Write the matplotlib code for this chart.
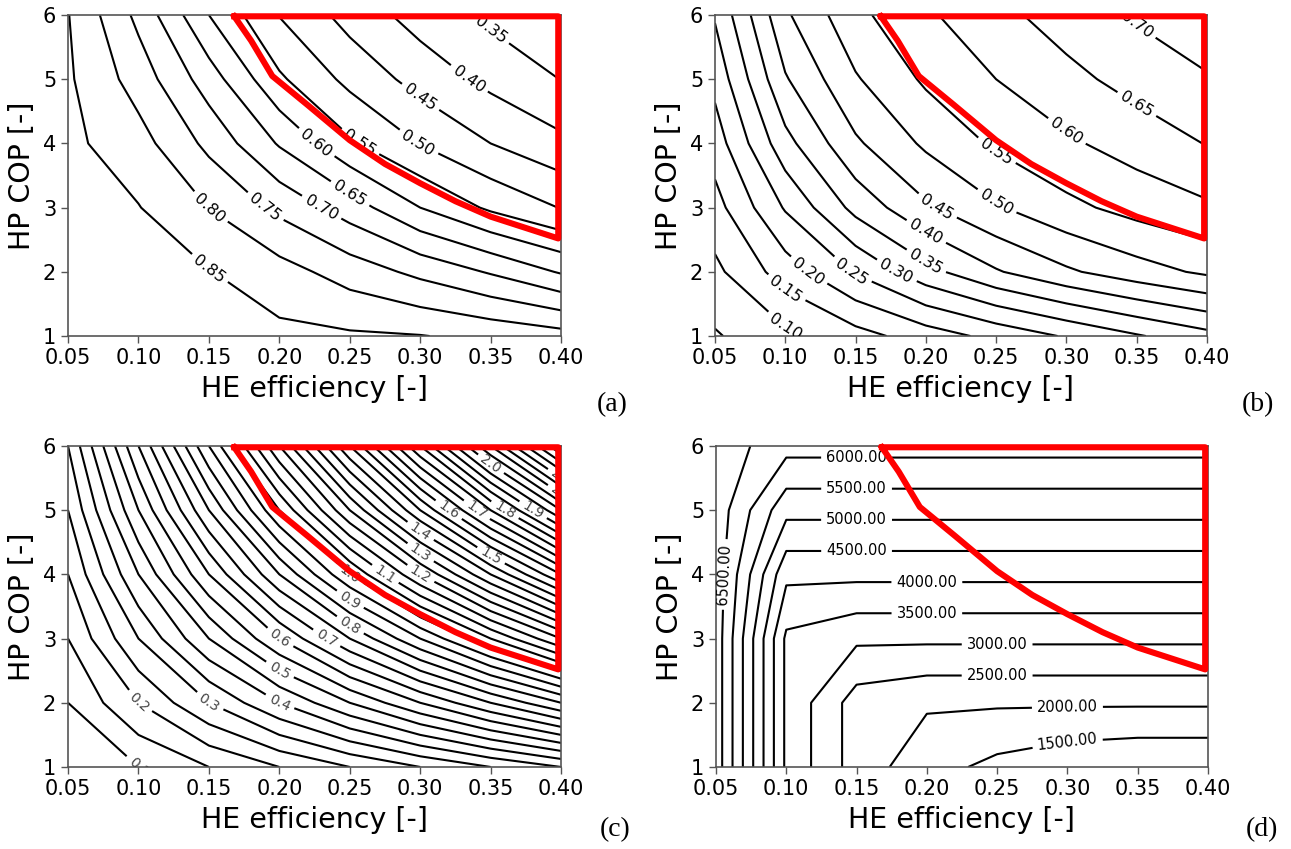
import matplotlib
matplotlib.use("Agg")
import matplotlib.pyplot as plt
import numpy as np
from matplotlib.ticker import FormatStrFormatter

plt.rcParams['font.family'] = 'DejaVu Sans'

# grade: eficiencia do HE (colunas) e COP da HP (linhas)
he_eff = [0.05, 0.10, 0.15, 0.20, 0.25, 0.30, 0.35, 0.40]
hp_cop = [1, 2, 3, 4, 5, 6]

# (a)
za = [[0.893, 0.882, 0.871, 0.862, 0.857, 0.852, 0.837, 0.820],
      [0.882, 0.862, 0.852, 0.820, 0.778, 0.737, 0.695, 0.645],
      [0.871, 0.852, 0.799, 0.737, 0.675, 0.600, 0.541, 0.498],
      [0.862, 0.820, 0.737, 0.645, 0.558, 0.498, 0.450, 0.412],
      [0.857, 0.778, 0.675, 0.558, 0.486, 0.431, 0.386, 0.349],
      [0.852, 0.737, 0.600, 0.498, 0.431, 0.379, 0.339, 0.310]]

# (b)
zb = [[0.045, 0.088, 0.131, 0.174, 0.215, 0.255, 0.295, 0.333],
      [0.088, 0.174, 0.255, 0.333, 0.395, 0.442, 0.479, 0.509],
      [0.131, 0.255, 0.366, 0.442, 0.495, 0.537, 0.568, 0.592],
      [0.174, 0.333, 0.442, 0.509, 0.558, 0.592, 0.622, 0.652],
      [0.215, 0.395, 0.495, 0.558, 0.600, 0.636, 0.668, 0.696],
      [0.255, 0.442, 0.537, 0.592, 0.636, 0.672, 0.706, 0.730]]

# (c)
zc = [[0.05, 0.10, 0.15, 0.20, 0.25, 0.30, 0.35, 0.40],
      [0.10, 0.20, 0.30, 0.40, 0.50, 0.60, 0.70, 0.80],
      [0.15, 0.30, 0.45, 0.60, 0.75, 0.90, 1.05, 1.20],
      [0.20, 0.40, 0.60, 0.80, 1.00, 1.20, 1.40, 1.60],
      [0.25, 0.50, 0.75, 1.00, 1.25, 1.50, 1.75, 2.00],
      [0.30, 0.60, 0.90, 1.20, 1.50, 1.80, 2.10, 2.40]]

# (d)
zd = [[6800, 3400, 2267, 1700, 1360, 1133, 1031, 1031],
      [6800, 3400, 2267, 2062, 2062, 2062, 2062, 2062],
      [6800, 3400, 3093, 3093, 3093, 3093, 3093, 3093],
      [6800, 4124, 4124, 4124, 4124, 4124, 4124, 4124],
      [6800, 5155, 5155, 5155, 5155, 5155, 5155, 5155],
      [6800, 6186, 6186, 6186, 6186, 6186, 6186, 6186]]

levels_a = [0.35, 0.40, 0.45, 0.50, 0.55, 0.60, 0.65, 0.70, 0.75, 0.80, 0.85]
levels_b = [0.05, 0.10, 0.15, 0.20, 0.25, 0.30, 0.35, 0.40, 0.45, 0.50, 0.55, 0.60, 0.65, 0.70]
levels_c = np.round(np.arange(1, 48) * 0.05, 2)
levels_d = [1500, 2000, 2500, 3000, 3500, 4000, 4500, 5000, 5500, 6000, 6500]

# regiao marcada em vermelho
red_x = [0.168, 0.180, 0.195, 0.220, 0.250, 0.275, 0.300, 0.325, 0.350, 0.398, 0.398, 0.168]
red_y = [5.98, 5.60, 5.05, 4.60, 4.05, 3.68, 3.38, 3.10, 2.86, 2.52, 5.98, 5.98]

fig = plt.figure(figsize=(12.91, 8.49), dpi=100)


def painel(rect, z, levels, fmt, fsize, tag, tag_xy, lab_levels=None, lab_color='k'):
    ax = fig.add_axes(rect)
    cs = ax.contour(he_eff, hp_cop, z, levels=levels, colors='k', linewidths=1.5)
    if lab_levels is None:
        lab_levels = cs.levels
    ax.clabel(cs, lab_levels, fmt=fmt, fontsize=fsize, inline=True, colors=lab_color)
    ax.plot(red_x, red_y, color='red', lw=4.4, clip_on=False, zorder=5)
    ax.set_xlim(0.05, 0.40)
    ax.set_ylim(1, 6)
    ax.set_xticks(he_eff)
    ax.set_yticks(hp_cop)
    ax.xaxis.set_major_formatter(FormatStrFormatter('%.2f'))
    ax.tick_params(labelsize=15, color='#555555', length=5, width=1)
    for s in ax.spines.values():
        s.set_color('#555555')
        s.set_linewidth(1.2)
    ax.set_xlabel('HE efficiency [-]', fontsize=20.5, labelpad=5)
    ax.set_ylabel('HP COP [-]', fontsize=20.5, labelpad=5)
    fig.text(tag_xy[0], tag_xy[1], tag, fontsize=20, family='Liberation Serif',
             ha='center', va='center')
    return ax


painel([0.0527, 0.6042, 0.3819, 0.3781], za, levels_a, '%.2f', 11.5, '(a)', (0.474, 0.523))
painel([0.5538, 0.6042, 0.3811, 0.3781], zb, levels_b, '%.2f', 11.5, '(b)', (0.9745, 0.523))
painel([0.0527, 0.0966, 0.3819, 0.3781], zc, levels_c, '%.1f', 10, '(c)', (0.4764, 0.0224),
       lab_levels=levels_c[1::2], lab_color='#444444')
painel([0.5546, 0.0966, 0.3811, 0.3781], zd, levels_d, '%.2f', 10.5, '(d)', (0.9775, 0.0224))

fig.savefig('out.png', dpi=100)
